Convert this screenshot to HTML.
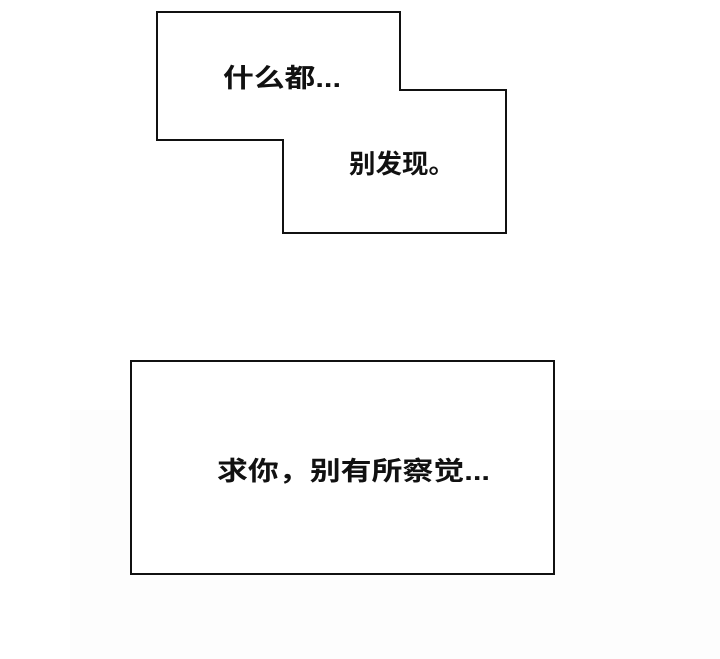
<!DOCTYPE html>
<html><head><meta charset="utf-8"><style>
html,body{margin:0;padding:0;background:#fff;}
svg{display:block}
text{font-family:"Liberation Sans","Noto Sans CJK SC",sans-serif;font-weight:bold;fill:#111;font-size:26px}
</style></head><body>
<svg width="720" height="659" viewBox="0 0 720 659" xmlns="http://www.w3.org/2000/svg">
<rect x="0" y="0" width="720" height="659" fill="#fff"/>
<rect x="70" y="410" width="650" height="249" fill="#fdfdfd"/>
<polygon points="157,12 400,12 400,90 506,90 506,233 283,233 283,140 157,140" fill="#fff" stroke="#111" stroke-width="2"/>
<rect x="131" y="361" width="423" height="213" fill="#fff" stroke="#111" stroke-width="2"/>
<text x="223" y="87" textLength="118" lengthAdjust="spacingAndGlyphs">什么都...</text>
<text x="349" y="173" textLength="106" lengthAdjust="spacingAndGlyphs">别发现。</text>
<text x="217" y="480" textLength="273" lengthAdjust="spacingAndGlyphs">求你，别有所察觉...</text>
</svg>
</body></html>
